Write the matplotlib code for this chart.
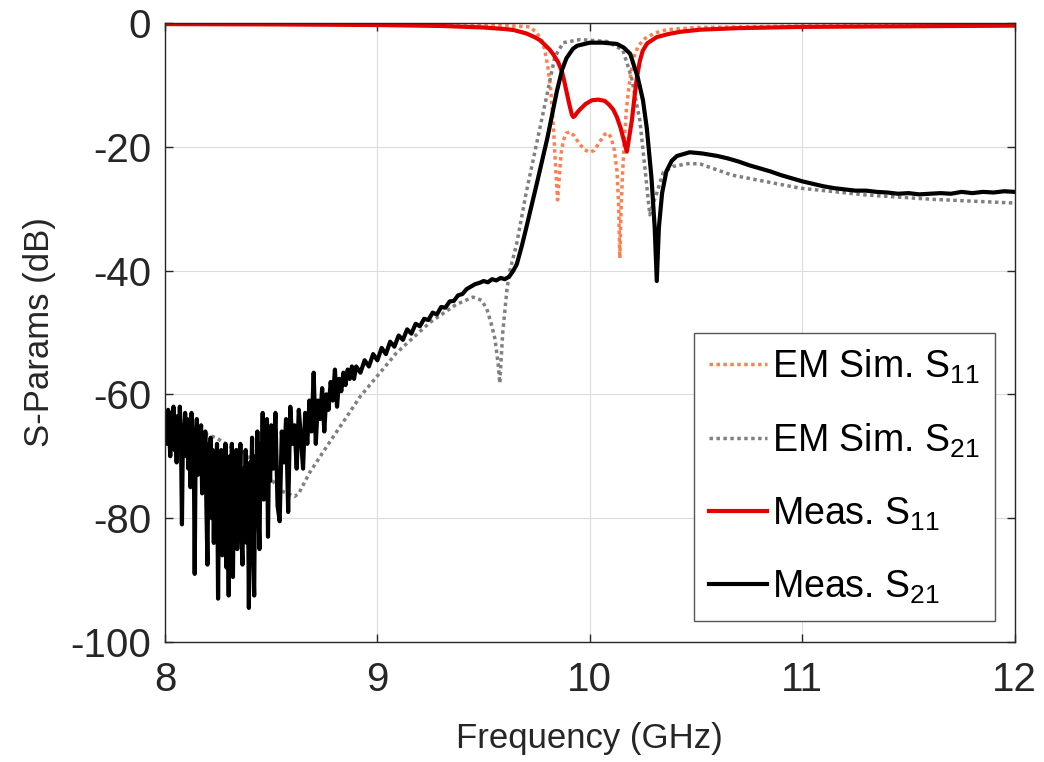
import numpy as np
import matplotlib
matplotlib.use("Agg")
import matplotlib.pyplot as plt

plt.rcParams['font.family'] = ['Liberation Sans', 'DejaVu Sans']
plt.rcParams['mathtext.fontset'] = 'custom'
plt.rcParams['mathtext.rm'] = 'Liberation Sans'
plt.rcParams['mathtext.it'] = 'Liberation Sans:italic'
plt.rcParams['axes.unicode_minus'] = False

# ---------------- EM simulation, S11 ----------------
em_s11_freq = [8.0, 8.5, 9.0, 9.4, 9.6, 9.718, 9.75, 9.779, 9.79, 9.802, 9.815,
               9.823, 9.832, 9.840, 9.848, 9.856, 9.865, 9.875, 9.89, 9.905,
               9.925, 9.95, 9.975, 10.0, 10.02, 10.045, 10.07, 10.085, 10.10,
               10.115, 10.128, 10.135, 10.141, 10.147, 10.153, 10.162, 10.172,
               10.185, 10.198, 10.21, 10.226, 10.25, 10.268, 10.31, 10.362,
               10.5, 11.0, 11.5, 12.0]
em_s11_db = [-0.15, -0.2, -0.25, -0.35, -0.45, -0.65, -1.6, -3.2, -4.8, -7.1, -10.5,
             -14.0, -19.0, -24.0, -28.6, -25.0, -21.0, -19.0, -17.8, -17.6,
             -18.2, -19.5, -20.5, -20.9, -20.6, -19.3, -18.0, -17.8, -18.5,
             -20.5, -24.0, -29.0, -38.0, -30.0, -25.0, -19.0, -14.0,
             -10.0, -7.1, -5.3, -3.9, -2.8, -2.3, -1.6, -1.1,
             -0.75, -0.5, -0.42, -0.38]

# ---------------- EM simulation, S21 ----------------
em_s21_freq = [8.0, 8.13, 8.24, 8.31, 8.375, 8.45, 8.555, 8.61, 8.63, 8.68, 8.76,
               8.856, 8.918, 9.09, 9.247, 9.37, 9.45, 9.49, 9.515, 9.535, 9.553,
               9.568, 9.576, 9.583, 9.59, 9.60, 9.61, 9.624, 9.656, 9.70, 9.75,
               9.80, 9.835, 9.875, 9.953, 10.08, 10.155, 10.195, 10.235, 10.26,
               10.282, 10.30, 10.315, 10.345, 10.39, 10.47, 10.52, 10.67, 10.99,
               11.30, 11.61, 11.93, 12.0]
em_s21_db = [-64.5, -65.8, -67.0, -68.5, -69.5, -72.0, -75.7, -76.5, -76.0, -72.7, -68.5,
             -63.6, -60.4, -53.3, -48.4, -45.5, -44.3, -44.8, -46.2, -48.5, -51.0,
             -55.0, -58.2, -54.0, -50.0, -46.5, -43.0, -40.0, -35.6, -27.5, -19.4,
             -11.3, -5.5, -3.2, -2.7, -3.0, -4.4, -8.7, -15.7, -23.7,
             -31.0, -29.0, -27.5, -24.2, -23.2, -22.7, -22.8, -24.6, -26.7,
             -27.8, -28.5, -29.0, -29.1]

# ---------------- Measured, S11 ----------------
meas_s11_freq = [8.0, 8.5, 9.0, 9.3, 9.5, 9.6, 9.64, 9.70, 9.74, 9.765, 9.79, 9.81,
                 9.826, 9.85, 9.868, 9.88, 9.892, 9.905, 9.915, 9.922, 9.93, 9.94,
                 9.953, 9.98, 10.01, 10.04, 10.07, 10.09, 10.11, 10.127, 10.145,
                 10.16, 10.174, 10.185, 10.198, 10.21, 10.221, 10.235, 10.249,
                 10.27, 10.315, 10.37, 10.424, 10.52, 10.7, 11.0, 11.5, 12.0]
meas_s11_db = [-0.2, -0.25, -0.35, -0.5, -0.75, -1.0, -1.15, -1.7, -2.3, -2.8, -3.6, -4.3,
               -5.0, -6.3, -7.8, -9.5, -11.4, -13.4, -14.8, -15.2, -15.0, -14.5,
               -14.0, -13.1, -12.5, -12.4, -12.6, -13.2, -14.0, -15.2, -17.0,
               -19.0, -20.8, -18.5, -15.7, -12.0, -8.9, -6.2, -4.5,
               -3.3, -2.3, -1.8, -1.45, -1.1, -0.85, -0.65, -0.55, -0.45]

# ---------------- Measured, S21 ----------------
# low band, 5 MHz steps (noise floor of the analyser)
meas_s21_freq_a = np.linspace(8.0, 8.5, 101)
meas_s21_db_a = [
    -65, -63, -68, -62.5, -66, -70, -63, -67, -62, -69,
    -64, -71, -63.5, -67, -62, -66, -81, -65, -69, -63,
    -70, -64, -72, -65, -75, -63, -68, -66, -89, -67,
    -64, -73, -66, -70, -65, -76, -67, -72, -66, -78,
    -87.5, -68, -74, -67, -80, -69, -84, -71, -77, -68,
    -93, -73, -79, -69, -86, -72, -81, -68, -88, -74,
    -92.5, -70, -82, -68, -89.5, -73, -79, -69, -85, -71,
    -77, -68, -83, -87.5, -72, -80, -69, -84, -73, -94.5,
    -71, -78, -67, -86, -92.5, -70, -76, -66, -79, -85,
    -68, -73, -63, -77, -66, -71, -64, -83, -68, -74,
    -65]
# 10 MHz steps
meas_s21_freq_b = np.linspace(8.51, 8.90, 40)
meas_s21_db_b = [
    -72, -63, -78, -80.5, -66, -71, -64, -79, -62, -68,
    -65, -72, -62.5, -67, -72, -63, -68, -61, -66, -56.5,
    -68, -61, -64, -59, -66, -60, -62.5, -58, -61, -56,
    -62, -57.5, -59.5, -56.5, -58.5, -56, -57.5, -55.5, -57.5, -55.5]
# upper skirt, passband and upper stopband
meas_s21_freq_c = [8.92, 8.94, 8.96, 8.98, 9.00, 9.02, 9.04, 9.06, 9.08, 9.10,
                   9.12, 9.14, 9.16, 9.18, 9.20, 9.22, 9.24, 9.26, 9.28, 9.30,
                   9.32, 9.34, 9.36, 9.38, 9.40, 9.42, 9.44, 9.46, 9.48, 9.50,
                   9.52, 9.54, 9.56, 9.58, 9.60, 9.62, 9.64, 9.656, 9.68, 9.70,
                   9.75, 9.80, 9.845, 9.87, 9.89, 9.92, 9.94, 10.0, 10.06, 10.127,
                   10.16, 10.19, 10.226, 10.25, 10.268, 10.29, 10.305, 10.315,
                   10.325, 10.34, 10.36, 10.385, 10.41, 10.47, 10.53,
                   10.60, 10.65, 10.70, 10.75, 10.80, 10.85, 10.90, 10.95, 11.00,
                   11.05, 11.10, 11.15, 11.20, 11.25, 11.30, 11.35, 11.40, 11.45,
                   11.50, 11.55, 11.60, 11.65, 11.70, 11.75, 11.80, 11.85, 11.90,
                   11.95, 12.00]
meas_s21_db_c = [-56.5, -54.5, -55.5, -53.5, -54.5, -52.5, -53.5, -51.5, -52.3, -50.5,
                 -51.2, -49.5, -50.2, -48.6, -49.0, -47.8, -48.0, -46.8, -47.1, -45.9,
                 -46.0, -45.0, -44.9, -44.0, -43.8, -43.0, -42.6, -42.2, -42.0, -41.7,
                 -41.9, -41.4, -41.6, -41.2, -41.4, -41.0, -40.0, -39.0, -36.0, -33.2,
                 -26.0, -18.6, -11.0, -7.5, -5.7, -4.2, -3.7, -3.2, -3.2, -3.4,
                 -4.0, -5.0, -8.9, -12.5, -17.0, -25.0, -33.0, -41.7,
                 -33.0, -27.5, -24.0, -22.3, -21.5, -20.9, -21.1,
                 -21.5, -21.9, -22.4, -23.0, -23.5, -24.0, -24.6, -25.1, -25.6,
                 -26.0, -26.4, -26.7, -26.9, -27.1, -27.1, -27.3, -27.4, -27.6,
                 -27.5, -27.7, -27.6, -27.5, -27.6, -27.3, -27.5, -27.3, -27.4,
                 -27.2, -27.3]

meas_s21_freq = np.concatenate([meas_s21_freq_a, meas_s21_freq_b, meas_s21_freq_c])
meas_s21_db = np.concatenate([meas_s21_db_a, meas_s21_db_b, meas_s21_db_c])

x_ticks = [8, 9, 10, 11, 12]
y_ticks = [-100, -80, -60, -40, -20, 0]

axis_color = '#262626'

fig = plt.figure(figsize=(10.44, 7.62), dpi=100)
ax = fig.add_axes([0.158, 0.1575, 0.814, 0.8125])

dot = (0, (1, 1))
ax.plot(em_s11_freq, em_s11_db, color='#FF7F50', lw=2.5, ls=dot,
        dash_capstyle='butt', label='EM Sim. S$_{\\mathrm{11}}$')
ax.plot(em_s21_freq, em_s21_db, color='#808080', lw=2.5, ls=dot,
        dash_capstyle='butt', label='EM Sim. S$_{\\mathrm{21}}$')
ax.plot(meas_s11_freq, meas_s11_db, color='#E60000', lw=3.0,
        label='Meas. S$_{\\mathrm{11}}$')
ax.plot(meas_s21_freq, meas_s21_db, color='black', lw=3.0,
        label='Meas. S$_{\\mathrm{21}}$')

ax.set_xlim(8, 12)
ax.set_ylim(-100, 0)
ax.set_xticks(x_ticks)
ax.set_yticks(y_ticks)
ax.grid(True, color='#dcdcdc', lw=0.8)
ax.set_axisbelow(True)

for sp in ax.spines.values():
    sp.set_color(axis_color)
    sp.set_linewidth(1.0)
ax.tick_params(direction='in', length=6, width=1.0, top=True, right=True,
               labelsize=29, colors=axis_color, pad=10)
ax.tick_params(axis='x', pad=14)

ax.set_xlabel('Frequency (GHz)', fontsize=25, color=axis_color, labelpad=16)
ax.set_ylabel('S-Params (dB)', fontsize=25, color=axis_color, labelpad=10)

leg = ax.legend(loc='lower right', bbox_to_anchor=(0.9765, 0.0345),
                fontsize=27, frameon=True, fancybox=False, framealpha=1,
                edgecolor='#555555', handlelength=1.55, handletextpad=0.15,
                borderpad=0.4, labelspacing=0.95, borderaxespad=0.0)
leg.get_frame().set_linewidth(1.0)

fig.savefig('out.png', dpi=100)
